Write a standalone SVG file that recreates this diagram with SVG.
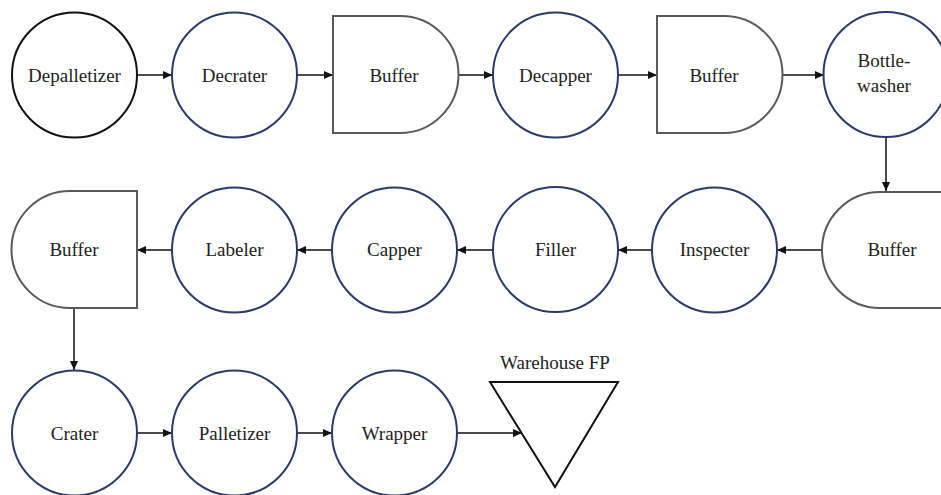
<svg xmlns="http://www.w3.org/2000/svg" width="941" height="495" viewBox="0 0 941 495">
<style>
  .m { fill: #fff; stroke: #2b3a67; stroke-width: 2; }
  .b { fill: #fff; stroke: #595959; stroke-width: 2; }
  .k { fill: #fff; stroke: #111; stroke-width: 2; }
  text { font-family: 'Liberation Serif', 'Times New Roman', 'DejaVu Serif', serif; font-size: 19px; fill: #222; text-anchor: middle; }
  .c { fill: none; stroke: #111; stroke-width: 1.5; marker-end: url(#ah); }
</style>
<defs>
  <marker id="ah" markerUnits="userSpaceOnUse" markerWidth="10" markerHeight="8" refX="9" refY="4" orient="auto">
    <path d="M0,0 L9,4 L0,8 Z" fill="#111"/>
  </marker>
</defs>
<rect width="941" height="495" fill="#fff"/>
<g id="connectors">
  <line class="c" x1="137" y1="75" x2="172" y2="75"/>
  <line class="c" x1="297" y1="75" x2="333" y2="75"/>
  <line class="c" x1="458" y1="75" x2="493" y2="75"/>
  <line class="c" x1="618" y1="75" x2="657" y2="75"/>
  <line class="c" x1="783" y1="75" x2="824" y2="75"/>
  <line class="c" x1="886" y1="137" x2="886" y2="191"/>
  <line class="c" x1="822" y1="250" x2="777" y2="250"/>
  <line class="c" x1="652" y1="250" x2="618" y2="250"/>
  <line class="c" x1="493" y1="250" x2="457" y2="250"/>
  <line class="c" x1="332" y1="250" x2="297" y2="250"/>
  <line class="c" x1="172" y1="250" x2="137" y2="250"/>
  <line class="c" x1="74" y1="308" x2="74" y2="370"/>
  <line class="c" x1="137" y1="433" x2="172" y2="433"/>
  <line class="c" x1="297" y1="433" x2="332" y2="433"/>
  <line class="c" x1="457" y1="433" x2="522" y2="433"/>
</g>
<g id="depalletizer"><circle class="k" cx="74.5" cy="75" r="62.5"/><text font-family="Liberation Serif, serif" x="74.5" y="81.5">Depalletizer</text></g>
<g id="decrater"><circle class="m" cx="234.5" cy="75" r="62.5"/><text font-family="Liberation Serif, serif" x="234.5" y="81.5">Decrater</text></g>
<g id="buffer1"><path class="b" d="M333,16 L400,16 A58.5,58.5 0 0 1 400,133 L333,133 Z"/><text font-family="Liberation Serif, serif" x="394" y="81.5">Buffer</text></g>
<g id="decapper"><circle class="m" cx="555.5" cy="75" r="62.5"/><text font-family="Liberation Serif, serif" x="555.5" y="81.5">Decapper</text></g>
<g id="buffer2"><path class="b" d="M657,16 L724,16 A58.5,58.5 0 0 1 724,133 L657,133 Z"/><text font-family="Liberation Serif, serif" x="714" y="81.5">Buffer</text></g>
<g id="bottlewasher"><circle class="m" cx="886" cy="74.5" r="62.5"/><text font-family="Liberation Serif, serif" x="884" y="67">Bottle-</text><text font-family="Liberation Serif, serif" x="884" y="92">washer</text></g>
<g id="buffer3"><path class="b" d="M950,192 L880,192 A58,58 0 0 0 880,308 L950,308"/><text font-family="Liberation Serif, serif" x="892" y="256">Buffer</text></g>
<g id="inspecter"><circle class="m" cx="714.5" cy="250" r="62.5"/><text font-family="Liberation Serif, serif" x="714.5" y="256">Inspecter</text></g>
<g id="filler"><circle class="m" cx="555.5" cy="249.5" r="62.5"/><text font-family="Liberation Serif, serif" x="555.5" y="255.5">Filler</text></g>
<g id="capper"><circle class="m" cx="394.5" cy="250" r="62.5"/><text font-family="Liberation Serif, serif" x="394.5" y="256">Capper</text></g>
<g id="labeler"><circle class="m" cx="234.5" cy="250" r="62.5"/><text font-family="Liberation Serif, serif" x="234.5" y="256">Labeler</text></g>
<g id="buffer4"><path class="b" d="M137,191 L70,191 A58.5,58.5 0 0 0 70,308 L137,308 Z"/><text font-family="Liberation Serif, serif" x="74" y="256">Buffer</text></g>
<g id="crater"><circle class="m" cx="74.5" cy="433" r="62.5"/><text font-family="Liberation Serif, serif" x="74.5" y="440">Crater</text></g>
<g id="palletizer"><circle class="m" cx="234.5" cy="433" r="62.5"/><text font-family="Liberation Serif, serif" x="234.5" y="440">Palletizer</text></g>
<g id="wrapper"><circle class="m" cx="394.5" cy="433" r="62.5"/><text font-family="Liberation Serif, serif" x="394.5" y="440">Wrapper</text></g>
<g id="warehouse"><path class="k" d="M490,382 L618,382 L555,487 Z"/><text font-family="Liberation Serif, serif" x="555" y="369">Warehouse FP</text></g>
</svg>
